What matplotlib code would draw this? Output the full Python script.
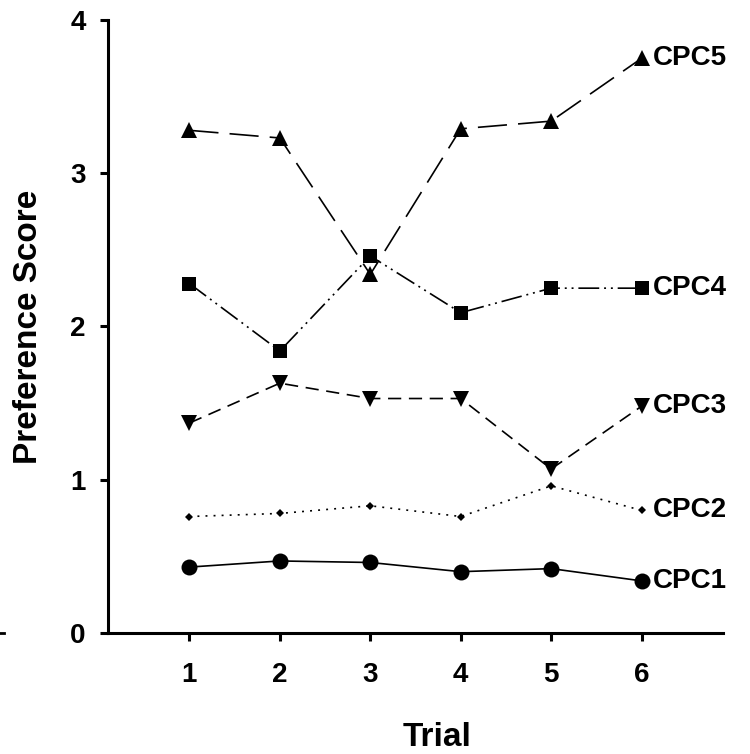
import matplotlib
matplotlib.use("Agg")
import matplotlib.pyplot as plt
from matplotlib.lines import Line2D

plt.rcParams['font.family'] = ['Liberation Sans', 'DejaVu Sans']
plt.rcParams['font.weight'] = 'bold'
plt.rcParams['lines.scale_dashes'] = False

# data
trials = [1, 2, 3, 4, 5, 6]
cpc1 = [0.43, 0.47, 0.46, 0.40, 0.42, 0.34]
cpc2 = [0.76, 0.78, 0.83, 0.76, 0.96, 0.80]
cpc3 = [1.37, 1.63, 1.53, 1.53, 1.07, 1.48]
cpc4 = [2.28, 1.84, 2.46, 2.09, 2.25, 2.25]
cpc5 = [3.28, 3.23, 2.34, 3.29, 3.34, 3.75]
names = ["CPC1", "CPC2", "CPC3", "CPC4", "CPC5"]
y_ticks = [0, 1, 2, 3, 4]

# (values, marker, markersize, dash pattern)
styles = [
    (cpc1, 'o', 11.5, None),
    (cpc2, 'D', 4.5, (1.4, 4.4)),
    (cpc3, 'v', 12, (9.5, 5.5)),
    (cpc4, 's', 10, (15, 3.5, 1.4, 3.5, 1.4, 3.5)),
    (cpc5, '^', 12, (21, 8)),
]


def main():
    fig = plt.figure(figsize=(7.5, 7.54), dpi=100)
    ax = fig.add_axes([0.144, 0.1605, 0.82, 0.813])

    for name, (vals, mk, ms, dash) in zip(names, styles):
        line, = ax.plot(trials, vals, color='black', lw=1.2, marker=mk,
                        markersize=ms, markeredgewidth=0)
        if dash is not None:
            line.set_dashes(dash)
        ax.annotate(name, (trials[-1], vals[-1]), xytext=(8, 0),
                    textcoords='offset points', ha='left', va='center',
                    fontsize=20, fontweight='bold')

    ax.set_xlim(0.1, 6.9)
    ax.set_ylim(0, 4)
    ax.set_xticks(trials)
    ax.set_yticks(y_ticks)
    for s in ['top', 'right']:
        ax.spines[s].set_visible(False)
    for s in ['left', 'bottom']:
        ax.spines[s].set_linewidth(2.2)
    ax.tick_params(axis='both', direction='out', length=6, width=2.2,
                   labelsize=20)
    ax.tick_params(axis='x', pad=15)
    ax.tick_params(axis='y', pad=10)

    ax.set_xlabel("Trial", fontsize=24, fontweight='bold')
    ax.set_ylabel("Preference Score", fontsize=24, fontweight='bold')
    ax.yaxis.set_label_coords(-0.104, 0.5)
    ax.xaxis.set_label_coords(0.535, -0.145)

    # small stray mark at the left edge of the original
    fig.add_artist(Line2D([0, 0.005], [0.1605, 0.1605], color='black', lw=2))

    fig.savefig("out.png", dpi=100)


if __name__ == '__main__':
    main()
